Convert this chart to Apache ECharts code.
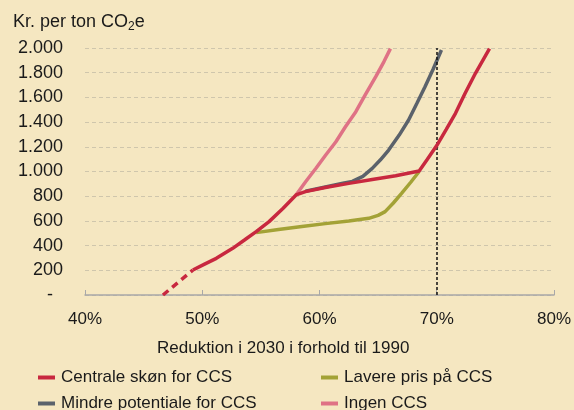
<!DOCTYPE html>
<html><head><meta charset="utf-8">
<script src="https://cdn.jsdelivr.net/npm/echarts@6/dist/echarts.min.js"></script>
<style>html,body{margin:0;padding:0;background:#f5e7c1}#c{width:574px;height:410px}</style>
</head><body><div id="c"></div>
<script>
var xTicks = [40, 50, 60, 70, 80];
var yTicks = [0, 200, 400, 600, 800, 1000, 1200, 1400, 1600, 1800, 2000];
var centralDashX = [46.65, 49.2];
var centralDashY = [0, 202];
var centralX = [49.2, 50.2, 51.2, 52.6, 53.6, 54.6, 55.7, 56.9, 58.0, 58.8, 60.5, 62.5, 64.5, 66.5, 68.5, 69.2, 70.0, 70.8, 71.6, 72.4, 73.3, 74.5];
var centralY = [202, 250, 297, 378, 445, 513, 594, 702, 810, 837, 870, 904, 935, 965, 1004, 1100, 1210, 1340, 1471, 1630, 1795, 1995];
var lavereX = [54.6, 56.5, 58.5, 60.5, 62.5, 64.2, 65.0, 65.6, 66.3, 67.0, 67.8, 68.5];
var lavereY = [505, 530, 555, 578, 599, 621, 645, 675, 745, 823, 915, 1000];
var mindreX = [58.8, 60.5, 62.0, 62.8, 63.7, 64.5, 65.2, 65.9, 66.8, 67.6, 68.3, 69.0, 69.7, 70.4];
var mindreY = [840, 875, 905, 920, 960, 1025, 1095, 1174, 1295, 1417, 1550, 1687, 1830, 1984];
var ingenX = [58.0, 58.8, 59.7, 60.5, 61.4, 62.2, 63.1, 63.9, 64.8, 65.5, 66.05];
var ingenY = [810, 915, 1026, 1130, 1241, 1360, 1484, 1620, 1768, 1890, 1995];
var names = ['Centrale skøn for CCS', 'Lavere pris på CCS', 'Mindre potentiale for CCS', 'Ingen CCS'];
var colors = ['#c8283f', '#a3a236', '#5b626b', '#df7285'];
var refX = 70;

function zip(a, b) { return a.map(function (v, i) { return [v, b[i]]; }); }
var FONT = 'Liberation Sans, Arial, sans-serif';
var chart = echarts.init(document.getElementById('c'));
function lg(name, left, top) {
  return { data: [name], left: left, top: top, icon: 'rect', itemWidth: 17, itemHeight: 4, itemGap: 0,
    textStyle: { fontSize: 17, color: '#1a1a1a', fontFamily: FONT, padding: [0, 0, 0, 1] }, selectedMode: false };
}
chart.setOption({
  backgroundColor: '#f5e7c1',
  animation: false,
  title: { text: '{a|Kr. per ton CO}{s|2}{a|e}', left: 8, top: 5,
    textStyle: { fontWeight: 'normal', rich: { a: { fontSize: 18, fontWeight: 'normal', color: '#1a1a1a', fontFamily: FONT, lineHeight: 24 },
      s: { fontSize: 12, fontWeight: 'normal', color: '#1a1a1a', fontFamily: FONT, lineHeight: 24, padding: [10, 0, 0, 0] } } } },
  grid: { left: 85, right: 18, top: 48, bottom: 115 },
  legend: [lg(names[0], 33, 364), lg(names[2], 33, 390), lg(names[1], 316, 364), lg(names[3], 316, 390)],
  graphic: [{ type: 'text', left: 295 - 138, top: 340, style: { text: 'Reduktion i 2030 i forhold til 1990', fontSize: 17, fill: '#1a1a1a', fontFamily: FONT } }],
  xAxis: { type: 'value', min: xTicks[0], max: xTicks[xTicks.length - 1], interval: 10,
    axisLine: { lineStyle: { color: '#a8a8a8', width: 1.5 } },
    axisTick: { inside: true, length: 5, lineStyle: { color: '#a8a8a8' } },
    splitLine: { show: false },
    axisLabel: { margin: 16, fontSize: 17, color: '#1a1a1a', fontFamily: FONT, formatter: '{value}%' } },
  yAxis: { type: 'value', min: yTicks[0], max: yTicks[yTicks.length - 1], interval: 200,
    axisLine: { show: false }, axisTick: { show: false },
    splitLine: { lineStyle: { color: '#cfc6ac', type: [4, 3], width: 1 } },
    axisLabel: { margin: 22, fontSize: 18, color: '#1a1a1a', fontFamily: FONT,
      formatter: function (v) { if (v === 0) return '-  '; if (v >= 1000) return Math.floor(v / 1000) + '.' + String(v % 1000).padStart(3, '0'); return String(v); } } },
  series: [
    { name: names[3], type: 'line', data: zip(ingenX, ingenY), showSymbol: false, color: colors[3], lineStyle: { width: 3.5 } },
    { name: names[2], type: 'line', data: zip(mindreX, mindreY), showSymbol: false, color: colors[2], lineStyle: { width: 3.5 } },
    { name: names[1], type: 'line', data: zip(lavereX, lavereY), showSymbol: false, color: colors[1], lineStyle: { width: 3.5 },
      markLine: { silent: true, symbol: 'none', label: { show: false }, lineStyle: { color: '#111', type: [3, 2], width: 1.5 }, data: [{ xAxis: refX }] } },
    { name: names[0], type: 'line', data: zip(centralX, centralY), showSymbol: false, color: colors[0], lineStyle: { width: 3.5 }, z: 5 },
    { name: 'dash', type: 'line', data: zip(centralDashX, centralDashY), showSymbol: false, color: colors[0], lineStyle: { width: 3.5, type: [7, 5] }, z: 5 }
  ]
});
</script></body></html>
